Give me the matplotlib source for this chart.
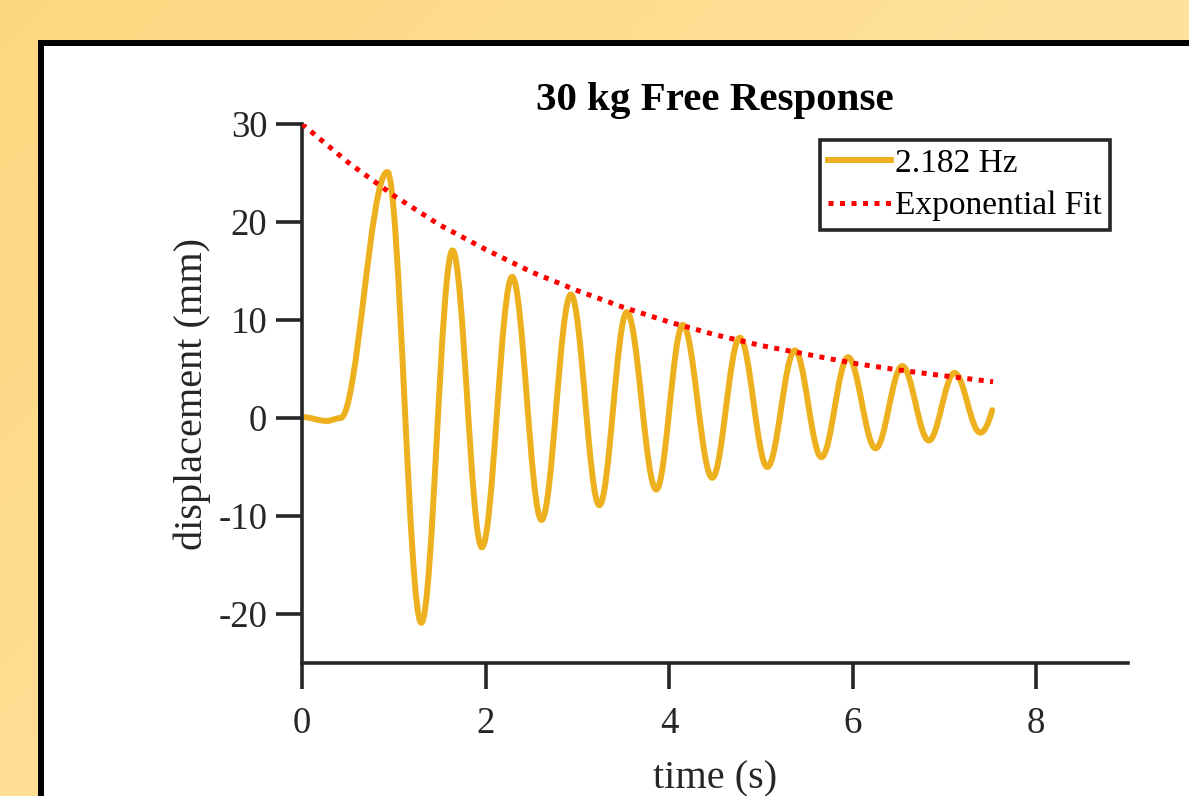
import numpy as np
import matplotlib.pyplot as plt
from matplotlib.path import Path
from matplotlib.patches import PathPatch, Rectangle
from matplotlib.lines import Line2D

# Data
# turning points (peaks / troughs) of the measured response
t_pts = [0.0, 0.27, 0.42, 0.93, 1.30, 1.64, 1.96, 2.29, 2.61, 2.93, 3.24, 3.54, 3.86,
         4.15, 4.47, 4.77, 5.07, 5.37, 5.66, 5.95, 6.25, 6.54, 6.83, 7.11, 7.39, 7.52]
d_pts = [0.1, -0.3, 0.0, 25.1, -20.9, 17.1, -13.2, 14.4, -10.4, 12.6, -8.9, 10.8, -7.3,
         9.5, -6.1, 8.2, -5.0, 6.9, -4.0, 6.2, -3.1, 5.3, -2.3, 4.6, -1.5, 0.8]

# exponential envelope fit
t_fit = [0.0, 0.5, 1.0, 1.5, 2.0, 2.5, 3.0, 3.5, 4.0, 4.5, 5.0, 5.5, 6.0, 6.5, 7.0, 7.53]
d_fit = [30.0, 26.1, 22.7, 19.7, 17.2, 14.9, 13.0, 11.3, 9.8, 8.5, 7.4, 6.5, 5.6, 4.9, 4.3, 3.7]

x_ticks = [0, 2, 4, 6, 8]
y_ticks = [-20, -10, 0, 10, 20, 30]

line_col = '#EDB120'
axis_col = '#262626'

plt.rcParams['font.family'] = ['Liberation Serif', 'DejaVu Serif']
plt.rcParams['axes.unicode_minus'] = False

fig = plt.figure(figsize=(11.89, 7.96), dpi=100)

# yellow gradient background
bg = fig.add_axes([0, 0, 1, 1], zorder=0)
gx, gy = np.meshgrid(np.linspace(0, 1, 200), np.linspace(0, 1, 200))
g = (0.6 * gx + 0.4 * gy)[..., None]
c0 = np.array([253, 215, 128]) / 255
c1 = np.array([255, 233, 175]) / 255
bg.imshow(c0 + (c1 - c0) * g, aspect='auto', extent=[0, 1, 1, 0])
bg.set_xlim(0, 1)
bg.set_ylim(1, 0)
bg.axis('off')

# white panel with black border
W, H = 1189, 796
top = 1 - 43 / H
bg.add_patch(Rectangle((40.5 / W, -0.5), 1.2, top + 0.5, facecolor='white',
                       edgecolor='black', linewidth=4.3, transform=bg.transAxes))

ax = fig.add_axes([302 / W, 1 - 663 / H, 826 / W, 539 / H], zorder=1)
ax.set_facecolor('none')

# smooth response through turning points (bezier, flat tangents at extremes)
verts = [(t_pts[0], d_pts[0])]
codes = [Path.MOVETO]
k = 0.363
for i in range(1, len(t_pts)):
    x0, y0 = t_pts[i - 1], d_pts[i - 1]
    x1, y1 = t_pts[i], d_pts[i]
    dx = x1 - x0
    if i == len(t_pts) - 1:
        verts += [(x0 + 0.5 * dx, y0), (x1, y1)]
        codes += [Path.CURVE3, Path.CURVE3]
    else:
        verts += [(x0 + k * dx, y0), (x1 - k * dx, y1), (x1, y1)]
        codes += [Path.CURVE4] * 3
ax.add_patch(PathPatch(Path(verts, codes), facecolor='none', edgecolor=line_col,
                       linewidth=4.3, capstyle='round', joinstyle='round', zorder=2))

dots = (0, (1, 1.3))
ax.plot(t_fit, d_fit, color='red', linewidth=3.6, linestyle=dots, zorder=3)

ax.set_xlim(0, 9)
ax.set_ylim(-25, 30)
ax.set_xticks(x_ticks)
ax.set_yticks(y_ticks)
ax.spines['top'].set_visible(False)
ax.spines['right'].set_visible(False)
for s in ['left', 'bottom']:
    ax.spines[s].set_color(axis_col)
    ax.spines[s].set_linewidth(2.6)
ax.tick_params(direction='out', length=19, width=2.6, color=axis_col,
               labelcolor=axis_col, labelsize=26.5)
ax.tick_params(axis='y', pad=6)
ax.tick_params(axis='x', pad=12)

ax.set_title('30 kg Free Response', fontsize=29.5, fontweight='bold', pad=10)
ax.set_xlabel('time (s)', fontsize=29, color=axis_col, labelpad=14)
ax.set_ylabel('displacement (mm)', fontsize=29, color=axis_col, labelpad=5)

handles = [Line2D([], [], color=line_col, linewidth=4.3),
           Line2D([], [], color='red', linewidth=3.6, linestyle=dots)]
leg = ax.legend(handles, ['2.182 Hz', 'Exponential Fit'], loc='upper right',
                bbox_to_anchor=(0.978, 0.970), borderaxespad=0, fontsize=24,
                fancybox=False, framealpha=1, edgecolor=axis_col,
                handlelength=1.9, handletextpad=0.1, borderpad=0.25,
                labelspacing=0.35)
leg.get_frame().set_linewidth(2.6)

fig.savefig('out.png', dpi=100)
